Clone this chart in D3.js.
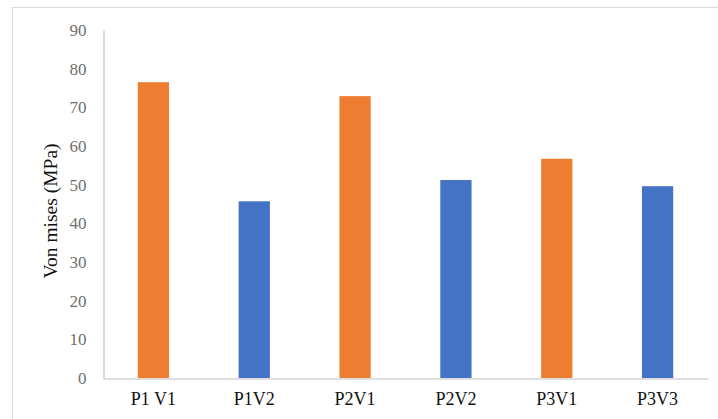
<!DOCTYPE html>
<html>
<head>
<meta charset="utf-8">
<script src="https://cdn.jsdelivr.net/npm/d3@7"></script>
<style>
  html, body { margin: 0; padding: 0; background: #fff; }
  svg { display: block; }
  svg text { font-family: "Times New Roman", Times, "Liberation Serif", "DejaVu Serif", serif; }
</style>
</head>
<body>
<div id="chart"></div>
<script>
// Von Mises stress per configuration
const categories = ["P1 V1", "P1V2", "P2V1", "P2V2", "P3V1", "P3V3"];
const values = [76.5, 45.7, 72.9, 51.2, 56.7, 49.6];
const barColors = ["#ED7D31", "#4472C4", "#ED7D31", "#4472C4", "#ED7D31", "#4472C4"];
const yTicks = [0, 10, 20, 30, 40, 50, 60, 70, 80, 90];
const yTitle = "Von mises (MPa)";

const W = 718, H = 419;
const plot = { left: 103, right: 708, top: 30, bottom: 378 };

const svg = d3.select("#chart").append("svg")
  .attr("width", W).attr("height", H);

svg.append("rect").attr("width", W).attr("height", H).attr("fill", "#fff");

// outer chart frame (continues past the right and bottom edges)
svg.append("rect")
  .attr("x", 12.5).attr("y", 7.5)
  .attr("width", W + 20).attr("height", H + 20)
  .attr("fill", "none").attr("stroke", "#d9d9d9").attr("stroke-width", 1);

const x = d3.scaleBand()
  .domain(categories)
  .range([plot.left, plot.right])
  .paddingInner(0.69)
  .paddingOuter(0.345);

const y = d3.scaleLinear()
  .domain([0, 90])
  .range([plot.bottom, plot.top]);

// bars
svg.append("g").selectAll("rect")
  .data(values)
  .join("rect")
  .attr("x", (d, i) => x(categories[i]))
  .attr("y", d => y(d))
  .attr("width", x.bandwidth())
  .attr("height", d => y(0) - y(d))
  .attr("fill", (d, i) => barColors[i]);

// y axis
const yAxis = d3.axisLeft(y).tickValues(yTicks).tickSize(0).tickPadding(17);
const gy = svg.append("g")
  .attr("transform", `translate(${plot.left + 0.5},0)`)
  .call(yAxis)
  .attr("font-family", null);
gy.select(".domain").attr("stroke", "#bfbfbf").attr("stroke-width", 1.2);
gy.selectAll("text")
  .style("font-size", "17px")
  .attr("fill", "#6f6f6f");

// x axis
const xAxis = d3.axisBottom(x).tickSize(0).tickPadding(14);
const gx = svg.append("g")
  .attr("transform", `translate(0,${plot.bottom + 0.5})`)
  .call(xAxis)
  .attr("font-family", null);
gx.select(".domain").attr("stroke", "#bfbfbf").attr("stroke-width", 1.2);
gx.selectAll("text")
  .style("font-size", "18px")
  .attr("fill", "#111");

// y axis title
svg.append("text")
  .attr("transform", `translate(57,211) rotate(-90)`)
  .attr("text-anchor", "middle")
  .style("font-size", "19.5px")
  .attr("fill", "#111")
  .text(yTitle);
</script>
</body>
</html>
